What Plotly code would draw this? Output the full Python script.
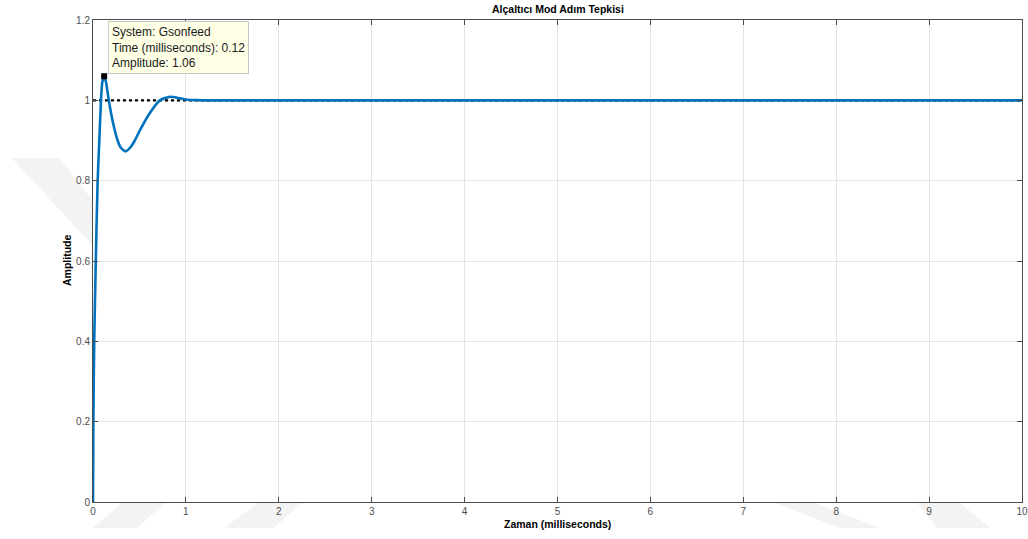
import plotly.graph_objects as go

# Step response of Gsonfeed (time in milliseconds)
time_ms = [0, 0.004, 0.013, 0.03, 0.05, 0.068, 0.086, 0.1, 0.12, 0.14, 0.17,
           0.21, 0.265, 0.3, 0.35, 0.4, 0.45, 0.506, 0.61, 0.72, 0.83, 0.92,
           1.0, 1.1, 1.2, 2, 4, 6, 8, 10]
amplitude = [0, 0.2, 0.4, 0.6, 0.8, 0.9, 1.0, 1.045, 1.06, 1.045, 1.0,
             0.95, 0.9, 0.882, 0.873, 0.882, 0.9, 0.926, 0.968, 1.0, 1.009, 1.006,
             1.002, 1.0005, 1.0, 1.0, 1.0, 1.0, 1.0, 1.0]

steady_x = [0, 10]
steady_y = [1, 1]

peak_time = 0.12
peak_amp = 1.06
system_name = "Gsonfeed"

x_ticks = list(range(0, 11))
y_ticks = [0, 0.2, 0.4, 0.6, 0.8, 1, 1.2]
y_tick_text = ["0", "0.2", "0.4", "0.6", "0.8", "1", "1.2"]

title_text = "Alçaltıcı Mod Adım Tepkisi"
x_title = "Zaman (milliseconds)"
y_title = "Amplitude"

W, H = 1028, 539
L, R, T, B = 93, 6, 20, 37
pw, ph = W - L - R, H - T - B


def px(x):
    return (x - L) / pw


def py(y):
    return (H - B - y) / ph


FONT = "Liberation Sans, Arial, Helvetica, sans-serif"
TICK_COLOR = "#4d4d4d"

fig = go.Figure()

fig.add_trace(go.Scatter(
    x=steady_x, y=steady_y, mode="lines",
    line=dict(color="black", width=2.2, dash="dot"),
    hoverinfo="skip", showlegend=False,
))
fig.add_trace(go.Scatter(
    x=time_ms, y=amplitude, mode="lines",
    line=dict(color="#0072BD", width=2.6, shape="spline", smoothing=0.6),
    showlegend=False,
))
fig.add_trace(go.Scatter(
    x=[peak_time], y=[peak_amp], mode="markers",
    marker=dict(symbol="square", color="black", size=6),
    showlegend=False,
))

# faint background logo strokes
wm = "#f3f3f3"
shapes = []
polys = [
    [(123, 503), (165, 503), (137, 528), (92, 528)],
    [(258, 503), (302, 503), (274, 528), (224, 528)],
    [(917, 503), (960, 503), (990, 528), (938, 528)],
    [(775, 503), (815, 503), (880, 528), (840, 528)],
    [(12, 158), (60, 158), (92, 200), (92, 245)],
]
for poly in polys:
    path = "M " + " L ".join(f"{px(a):.4f},{py(b):.4f}" for a, b in poly) + " Z"
    shapes.append(dict(type="path", xref="paper", yref="paper", path=path,
                       fillcolor=wm, line=dict(width=0), layer="below"))

annotations = [
    dict(text=f"<b>{title_text}</b>", xref="paper", yref="paper",
         x=0.5, y=py(9), xanchor="center", yanchor="middle",
         showarrow=False, font=dict(family=FONT, size=10.5, color="black")),
    dict(text=f"<b>{x_title}</b>", xref="paper", yref="paper",
         x=0.5, y=py(524), xanchor="center", yanchor="middle",
         showarrow=False, font=dict(family=FONT, size=10.5, color="black")),
    dict(text=f"<b>{y_title}</b>", xref="paper", yref="paper",
         x=px(67), y=py(261), xanchor="center", yanchor="middle", textangle=-90,
         showarrow=False, font=dict(family=FONT, size=10.5, color="black")),
    dict(text=(f"System: {system_name}<br>Time (milliseconds): {peak_time:.2f}"
               f"<br>Amplitude: {peak_amp:.2f}"),
         xref="paper", yref="paper", x=px(108), y=py(21),
         xanchor="left", yanchor="top", align="left", showarrow=False,
         bgcolor="#ffffe6", bordercolor="#c8c8c8", borderwidth=1, borderpad=3,
         font=dict(family=FONT, size=12, color="#1a1a1a")),
]

axis_common = dict(
    showgrid=True, gridcolor="#e3e3e3", gridwidth=1,
    showline=True, linecolor="#4d4d4d", linewidth=1, mirror="ticks",
    ticks="inside", ticklen=5, tickcolor="#4d4d4d", tickwidth=1,
    zeroline=False, automargin=False,
    tickfont=dict(family=FONT, size=10, color=TICK_COLOR),
)

fig.update_layout(
    width=W, height=H,
    margin=dict(l=L, r=R, t=T, b=B, autoexpand=False),
    paper_bgcolor="white", plot_bgcolor="white",
    xaxis=dict(range=[0, 10], tickvals=x_ticks, **axis_common),
    yaxis=dict(range=[0, 1.2], tickvals=y_ticks, ticktext=y_tick_text, **axis_common),
    shapes=shapes, annotations=annotations,
    showlegend=False,
)

fig.write_html("out.html")
